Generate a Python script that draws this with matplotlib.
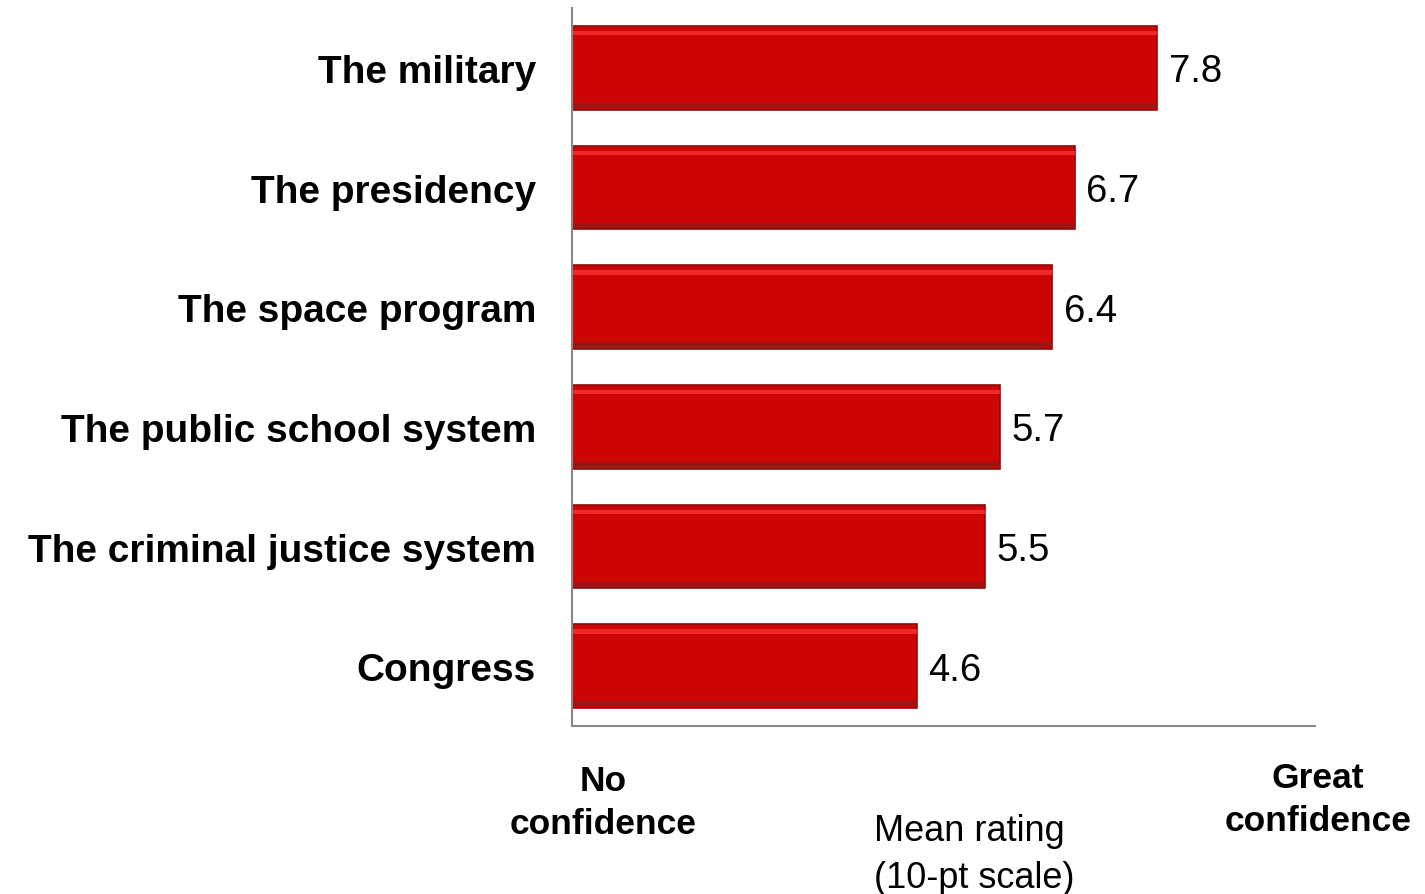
import matplotlib
matplotlib.use("Agg")
import matplotlib.pyplot as plt

# Дані
institutions = [
    "The military",
    "The presidency",
    "The space program",
    "The public school system",
    "The criminal justice system",
    "Congress",
]
ratings = [7.8, 6.7, 6.4, 5.7, 5.5, 4.6]

plt.rcParams["font.family"] = ["Liberation Sans", "DejaVu Sans"]

fig = plt.figure(figsize=(14.25, 8.95), dpi=100)
ax = fig.add_axes([0.4014, 0.1877, 0.5214, 0.8022])

ypos = list(range(len(institutions)))
ax.barh(ypos, ratings, height=0.7, color="#CC0505", edgecolor="#8A0C0C", linewidth=1.2)
# відблиск зверху та тінь знизу
ax.barh([y - 0.29 for y in ypos], ratings, height=0.035, color="#F02828", linewidth=0)
ax.barh([y + 0.315 for y in ypos], ratings, height=0.04, color="#9E1414", linewidth=0)

for y, v in zip(ypos, ratings):
    ax.text(v + 0.15, y + 0.03, f"{v:.1f}", va="center", ha="left", fontsize=27.5)

ax.set_xlim(0, 9.9)
ax.set_ylim(len(institutions) - 0.5, -0.5)
ax.set_yticks(ypos)
ax.set_yticklabels(institutions, fontsize=28, fontweight="bold")
ax.tick_params(axis="y", length=0, pad=26)
ax.set_xticks([])

for s in ["top", "right"]:
    ax.spines[s].set_visible(False)
for s in ["left", "bottom"]:
    ax.spines[s].set_color("#888888")
    ax.spines[s].set_linewidth(1.5)

fig.text(0.423, 0.1028, "No\nconfidence", ha="center", va="center",
         fontsize=25.5, fontweight="bold", linespacing=1.4)
fig.text(0.925, 0.106, "Great\nconfidence", ha="center", va="center",
         fontsize=25.5, fontweight="bold", linespacing=1.4)
fig.text(0.613, 0.0447, "Mean rating\n(10-pt scale)", ha="left", va="center",
         fontsize=26, linespacing=1.42)

fig.savefig("out.png", dpi=100)
